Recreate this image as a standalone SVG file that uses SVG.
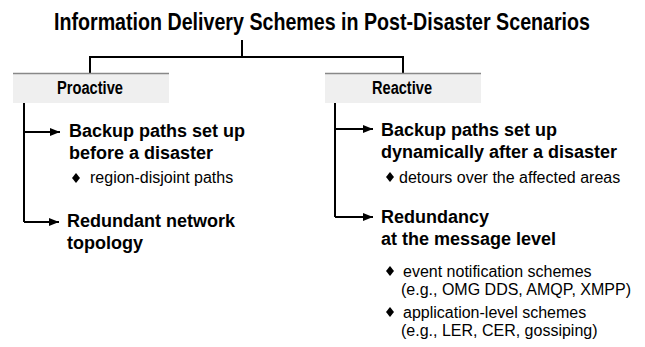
<svg xmlns="http://www.w3.org/2000/svg" width="645" height="347" viewBox="0 0 645 347">
<style>
.title{font-family:"Liberation Sans Narrow","Liberation Sans",Arial,sans-serif;font-weight:bold;font-size:24px;fill:#000}
.cat{font-family:"Liberation Sans Narrow","Liberation Sans",Arial,sans-serif;font-weight:bold;font-size:18px;fill:#000}
.head{font-family:"Liberation Sans",Arial,sans-serif;font-weight:bold;font-size:18px;fill:#000}
.sub{font-family:"Liberation Sans",Arial,sans-serif;font-size:16px;fill:#000}
.box{fill:#efefef}
.boxtop{stroke:#888;stroke-width:1.5}
.ln{stroke:#000;stroke-width:2;fill:none}
.dia{fill:#000}
</style>
<defs>
<marker id="ah" markerWidth="10" markerHeight="8" refX="10" refY="4" orient="auto" markerUnits="userSpaceOnUse">
<path d="M0,0 L10,4 L0,8 z" fill="#000"/>
</marker>
</defs>
<g id="title">
<text class="title" x="322" y="30" text-anchor="middle" textLength="536" lengthAdjust="spacingAndGlyphs">Information Delivery Schemes in Post-Disaster Scenarios</text>
</g>
<g id="connectors">
<path class="ln" d="M242,40 V57 M90,74 V57 H403 V74"/>
<path class="ln" d="M24,103 V222"/>
<path class="ln" d="M24,132 H60" marker-end="url(#ah)"/>
<path class="ln" d="M24,222 H59" marker-end="url(#ah)"/>
<path class="ln" d="M335,103 V217"/>
<path class="ln" d="M335,129 H373" marker-end="url(#ah)"/>
<path class="ln" d="M335,217 H373" marker-end="url(#ah)"/>
</g>
<g id="proactive">
<rect class="box" x="13" y="73" width="156" height="30"/>
<line class="boxtop" x1="13" y1="73.5" x2="169" y2="73.5"/>
<text class="cat" x="90" y="94" text-anchor="middle" textLength="66" lengthAdjust="spacingAndGlyphs">Proactive</text>
</g>
<g id="reactive">
<rect class="box" x="325" y="73" width="156" height="30"/>
<line class="boxtop" x1="325" y1="73.5" x2="481" y2="73.5"/>
<text class="cat" x="402" y="94" text-anchor="middle" textLength="60" lengthAdjust="spacingAndGlyphs">Reactive</text>
</g>
<g id="pro-backup">
<text class="head" x="69" y="137">Backup paths set up</text>
<text class="head" x="69" y="159">before a disaster</text>
<path class="dia" d="M76,173 L80,178 L76,183 L72,178 z"/>
<text class="sub" x="90" y="183">region-disjoint paths</text>
</g>
<g id="pro-redundant">
<text class="head" x="67" y="227">Redundant network</text>
<text class="head" x="67" y="249">topology</text>
</g>
<g id="re-backup">
<text class="head" x="381" y="136">Backup paths set up</text>
<text class="head" x="381" y="158">dynamically after a disaster</text>
<path class="dia" d="M390,172 L394,177 L390,182 L386,177 z"/>
<text class="sub" x="399" y="183">detours over the affected areas</text>
</g>
<g id="re-redundancy">
<text class="head" x="381" y="223">Redundancy</text>
<text class="head" x="381" y="245">at the message level</text>
<path class="dia" d="M390,266 L394,271 L390,276 L386,271 z"/>
<text class="sub" x="403" y="277">event notification schemes</text>
<text class="sub" x="401" y="295">(e.g., OMG DDS, AMQP, XMPP)</text>
<path class="dia" d="M390,307 L394,312 L390,317 L386,312 z"/>
<text class="sub" x="403" y="318">application-level schemes</text>
<text class="sub" x="401" y="336">(e.g., LER, CER, gossiping)</text>
</g>
</svg>
